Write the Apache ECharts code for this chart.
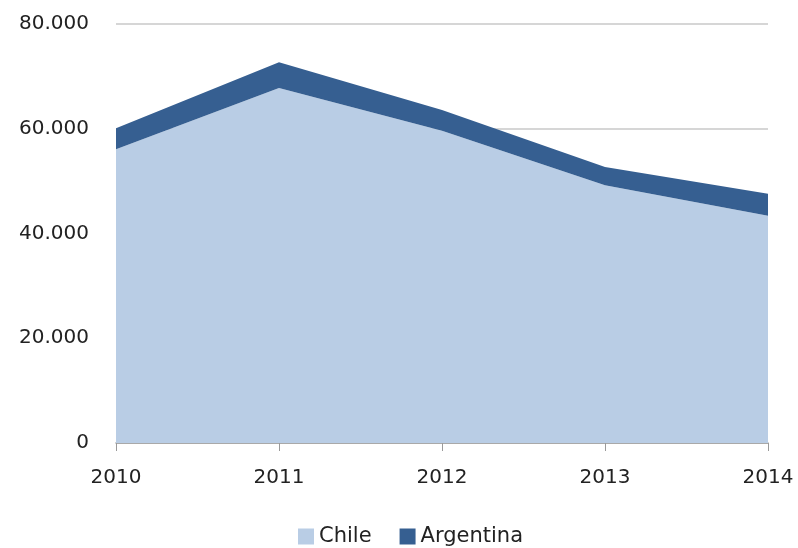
<!DOCTYPE html>
<html>
<head>
<meta charset="utf-8">
<script src="https://cdn.jsdelivr.net/npm/echarts@6/dist/echarts.min.js"></script>
<style>
  html, body { margin: 0; padding: 0; background: #fff; }
  #chart { width: 798px; height: 548px; }
</style>
</head>
<body>
<div id="chart"></div>
<script>
// data
var years = ['2010', '2011', '2012', '2013', '2014'];
var chile = [56100, 67800, 59600, 49200, 43400];
var argentina = [4000, 4900, 4000, 3500, 4200];

var myChart = echarts.init(document.getElementById('chart'));

// 80000 -> "80.000"
function fmt(v) {
  return String(v).replace(/\B(?=(\d{3})+(?!\d))/g, '.');
}

var font = 'DejaVu Sans';

var option = {
  animation: false,
  color: ['#b9cde5', '#365f91'],
  grid: { left: 116, right: 30, top: 24, bottom: 105 },
  legend: {
    data: ['Chile', 'Argentina'],
    left: 298,
    bottom: 1,
    padding: 0,
    icon: 'rect',
    itemWidth: 16,
    itemHeight: 16,
    itemGap: 28,
    textStyle: { fontFamily: font, fontSize: 21, color: '#222' }
  },
  xAxis: {
    type: 'category',
    data: years,
    boundaryGap: false,
    axisLine: { lineStyle: { color: '#9a9a9a', width: 1.5 } },
    axisTick: { show: true, length: 8, lineStyle: { color: '#9a9a9a' } },
    axisLabel: { fontFamily: font, fontSize: 20, color: '#222', margin: 25 }
  },
  yAxis: {
    type: 'value',
    min: 0,
    max: 80000,
    interval: 20000,
    axisLine: { show: false },
    axisTick: { show: false },
    axisLabel: {
      fontFamily: font, fontSize: 20, color: '#222', margin: 27,
      formatter: fmt
    },
    splitLine: { lineStyle: { color: '#c8c8c8', width: 1.5 } }
  },
  series: [
    {
      name: 'Chile',
      type: 'line',
      stack: 'total',
      data: chile,
      showSymbol: false,
      lineStyle: { width: 0 },
      areaStyle: { opacity: 1 }
    },
    {
      name: 'Argentina',
      type: 'line',
      stack: 'total',
      data: argentina,
      showSymbol: false,
      lineStyle: { width: 0 },
      areaStyle: { opacity: 1 }
    }
  ]
};

myChart.setOption(option);
</script>
</body>
</html>
